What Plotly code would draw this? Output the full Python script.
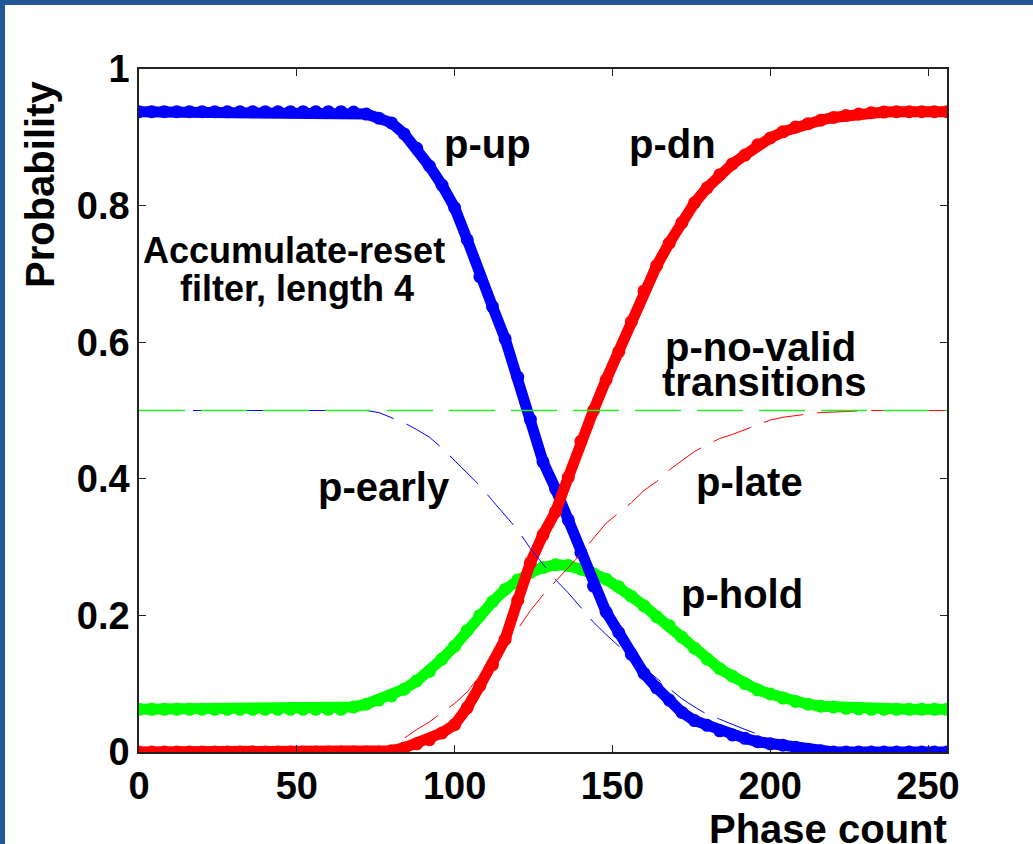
import plotly.graph_objects as go

phase = list(range(0, 257, 4))

p_up = [
    0.9375, 0.9375, 0.9375, 0.9375, 0.9375, 0.9375, 0.9375, 0.9375,   # 0-28
    0.9375, 0.9375, 0.9375, 0.9375, 0.9375, 0.9375, 0.9375, 0.9375,   # 32-60
    0.9375, 0.937, 0.934, 0.928, 0.921, 0.905, 0.884, 0.858,          # 64-92
    0.830, 0.797, 0.750, 0.696, 0.652, 0.605, 0.549, 0.487,           # 96-124
    0.425, 0.385, 0.340, 0.292, 0.243, 0.205, 0.175, 0.143,           # 128-156
    0.115, 0.094, 0.076, 0.058, 0.046, 0.039, 0.031, 0.025,           # 160-188
    0.020, 0.015, 0.012, 0.010, 0.007, 0.004, 0.002, 0.0,             # 192-220
    0.0, 0.0, 0.0, 0.0, 0.0, 0.0, 0.0, 0.0, 0.0                       # 224-256
]

p_dn = [
    0.0, 0.0, 0.0, 0.0, 0.0, 0.0, 0.0, 0.0,                           # 0-28
    0.0, 0.0, 0.0, 0.0, 0.0, 0.0, 0.0, 0.0,                           # 32-60
    0.0, 0.0, 0.0, 0.0, 0.002, 0.006, 0.012, 0.018,                   # 64-92
    0.028, 0.040, 0.065, 0.097, 0.128, 0.165, 0.222, 0.277,           # 96-124
    0.318, 0.352, 0.402, 0.455, 0.500, 0.545, 0.586, 0.630,           # 128-156
    0.675, 0.712, 0.745, 0.775, 0.804, 0.826, 0.845, 0.861,           # 160-188
    0.874, 0.889, 0.899, 0.908, 0.915, 0.920, 0.925, 0.929,           # 192-220
    0.932, 0.934, 0.936, 0.937, 0.9375, 0.9375, 0.9375, 0.9375, 0.9375  # 224-256
]

p_hold = [
    0.0625, 0.0625, 0.0625, 0.0625, 0.0625, 0.0625, 0.0625, 0.0625,   # 0-28
    0.0625, 0.0625, 0.0625, 0.0625, 0.0625, 0.0625, 0.0625, 0.0625,   # 32-60
    0.0625, 0.066, 0.070, 0.076, 0.082, 0.092, 0.104, 0.118,          # 64-92
    0.136, 0.155, 0.178, 0.200, 0.220, 0.238, 0.252, 0.263,           # 96-124
    0.270, 0.274, 0.273, 0.268, 0.261, 0.253, 0.242, 0.228,           # 128-156
    0.214, 0.198, 0.185, 0.168, 0.152, 0.136, 0.122, 0.111,           # 160-188
    0.100, 0.091, 0.085, 0.079, 0.074, 0.070, 0.067, 0.066,           # 192-220
    0.064, 0.063, 0.0625, 0.0625, 0.0625, 0.0625, 0.0625, 0.0625, 0.0625  # 224-256
]

p_early = [
    0.5, 0.5, 0.5, 0.5, 0.5, 0.5, 0.5, 0.5,                           # 0-28
    0.5, 0.5, 0.5, 0.5, 0.5, 0.5, 0.5, 0.5,                           # 32-60
    0.5, 0.5, 0.5, 0.497, 0.490, 0.482, 0.472, 0.461,                 # 64-92
    0.445, 0.427, 0.408, 0.390, 0.368, 0.347, 0.325, 0.298,           # 96-124
    0.275, 0.252, 0.233, 0.212, 0.190, 0.172, 0.155, 0.140,           # 128-156
    0.123, 0.108, 0.093, 0.078, 0.066, 0.055, 0.048, 0.040,           # 160-188
    0.033, 0.026, 0.016, 0.011, 0.007, 0.004, 0.002, 0.001,           # 192-220
    0.0, 0.0, 0.0, 0.0, 0.0, 0.0, 0.0, 0.0, 0.0                       # 224-256
]

p_late = [
    0.0, 0.0, 0.0, 0.0, 0.0, 0.0, 0.0, 0.0,                           # 0-28
    0.0, 0.0, 0.0, 0.0, 0.0, 0.0, 0.0, 0.0,                           # 32-60
    0.0, 0.0, 0.0, 0.0, 0.005, 0.020, 0.033, 0.044,                   # 64-92
    0.058, 0.071, 0.088, 0.112, 0.135, 0.157, 0.180, 0.207,           # 96-124
    0.230, 0.250, 0.270, 0.290, 0.313, 0.335, 0.350, 0.365,           # 128-156
    0.383, 0.396, 0.413, 0.427, 0.440, 0.450, 0.459, 0.465,           # 160-188
    0.472, 0.480, 0.486, 0.490, 0.493, 0.495, 0.497, 0.498,           # 192-220
    0.499, 0.5, 0.5, 0.5, 0.5, 0.5, 0.5, 0.5, 0.5                     # 224-256
]

no_valid_x = [0, 256]
p_no_valid = [0.5, 0.5]

x_ticks = [0, 50, 100, 150, 200, 250]
y_ticks = [0, 0.2, 0.4, 0.6, 0.8, 1]
y_ticktext = ["0", "0.2", "0.4", "0.6", "0.8", "1"]

FONT = "Liberation Sans, Arial, sans-serif"

W, H = 1033, 844
L, R, T, B = 139, 86, 69, 92
pw = W - L - R
ph = H - T - B


def px_to_paper_x(px):
    return (px - L) / pw


def px_to_paper_y(py):
    return (H - B - py) / ph


fig = go.Figure()


def thick(y, color):
    fig.add_trace(go.Scatter(
        x=phase, y=y, mode="lines+markers",
        line=dict(color=color, width=11),
        marker=dict(color=color, size=13, line=dict(width=0)),
        showlegend=False, hoverinfo="skip"))


thick(p_hold, "#00FF00")
thick(p_up, "#0000FF")
thick(p_dn, "#FF0000")

fig.add_trace(go.Scatter(x=phase, y=p_early, mode="lines",
                         line=dict(color="#0000FF", width=1, dash="40px,14px"),
                         showlegend=False, hoverinfo="skip"))
fig.add_trace(go.Scatter(x=phase, y=p_late, mode="lines",
                         line=dict(color="#FF0000", width=1, dash="40px,14px"),
                         showlegend=False, hoverinfo="skip"))
fig.add_trace(go.Scatter(x=no_valid_x, y=p_no_valid, mode="lines",
                         line=dict(color="#22EE22", width=1.5, dash="46px,16px"),
                         showlegend=False, hoverinfo="skip"))

labels = [
    ("p-up", 110.5, 0.890, 40),
    ("p-dn", 169, 0.890, 40),
    ("Accumulate-reset", 49, 0.735, 36),
    ("filter, length 4", 50, 0.679, 36),
    ("p-no-valid", 197, 0.593, 40),
    ("transitions", 198, 0.542, 40),
    ("p-early", 77.5, 0.388, 40),
    ("p-late", 193.5, 0.395, 40),
    ("p-hold", 191, 0.231, 40),
]
for text, x, y, size in labels:
    fig.add_annotation(x=x, y=y, xref="x", yref="y", text=text, showarrow=False,
                       xanchor="center", yanchor="middle",
                       font=dict(family=FONT, size=size, color="black", weight="bold"))

fig.add_annotation(x=px_to_paper_x(828), y=px_to_paper_y(829), xref="paper", yref="paper",
                   text="Phase count", showarrow=False, xanchor="center", yanchor="middle",
                   font=dict(family=FONT, size=40, color="black", weight="bold"))
fig.add_annotation(x=px_to_paper_x(40), y=px_to_paper_y(185), xref="paper", yref="paper",
                   text="Probability", showarrow=False, textangle=-90,
                   xanchor="center", yanchor="middle",
                   font=dict(family=FONT, size=40, color="black", weight="bold"))

axis_common = dict(showgrid=False, zeroline=False, showline=True, linecolor="#222222",
                   linewidth=1.5, mirror="ticks", ticks="inside", ticklen=7,
                   tickcolor="#222222", tickwidth=1,
                   tickfont=dict(family=FONT, size=38, color="black", weight="bold"))

fig.update_xaxes(range=[0, 256], tickvals=x_ticks, **axis_common)
fig.update_yaxes(range=[0, 1], tickvals=y_ticks, ticktext=y_ticktext, **axis_common)

# blue frame strips at top and left
fig.add_shape(type="rect", xref="paper", yref="paper",
              x0=px_to_paper_x(0), x1=px_to_paper_x(W),
              y0=px_to_paper_y(5), y1=px_to_paper_y(0),
              fillcolor="#235896", line=dict(width=0), layer="above")
fig.add_shape(type="rect", xref="paper", yref="paper",
              x0=px_to_paper_x(0), x1=px_to_paper_x(5),
              y0=px_to_paper_y(H), y1=px_to_paper_y(0),
              fillcolor="#235896", line=dict(width=0), layer="above")

fig.update_layout(width=W, height=H, margin=dict(l=L, r=R, t=T, b=B, pad=0),
                  plot_bgcolor="white", paper_bgcolor="white",
                  font=dict(family=FONT))

fig.write_html("out.html")
